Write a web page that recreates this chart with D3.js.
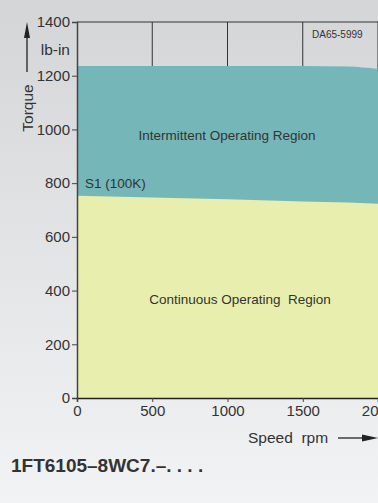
<!DOCTYPE html>
<html>
<head>
<meta charset="utf-8">
<script src="https://cdn.jsdelivr.net/npm/d3@7"></script>
<style>
  html, body { margin: 0; padding: 0; }
  body { width: 378px; height: 503px; overflow: hidden; }
  text { font-family: "Liberation Sans", Arial, sans-serif; fill: #333; }
</style>
</head>
<body>
<svg id="chart" width="378" height="503"></svg>
<script>
// data
const speed         = [0, 500, 1000, 1500, 1800, 2000];
const intermittent  = [1236, 1236, 1236, 1236, 1234, 1225];
const continuous    = [753, 747, 740, 732, 728, 723];
const xTicks        = [0, 500, 1000, 1500, 2000];
const yTicks        = [0, 200, 400, 600, 800, 1000, 1200, 1400];

const svg = d3.select('#chart');
const width = 378, height = 503;
const FONT = '"Liberation Sans", Arial, sans-serif';

const defs = svg.append('defs');
const grad = defs.append('linearGradient').attr('id', 'bg')
  .attr('x1', 0).attr('y1', 0).attr('x2', 0).attr('y2', 1);
grad.append('stop').attr('offset', '0%').attr('stop-color', '#d4d5d7');
grad.append('stop').attr('offset', '100%').attr('stop-color', '#f2f3f5');

svg.append('rect').attr('width', width).attr('height', height).attr('fill', 'url(#bg)');

const x = d3.scaleLinear().domain([0, 2000]).range([77, 378]);
const y = d3.scaleLinear().domain([0, 1400]).range([398, 22]);

const pts = (vals) => speed.map((s, i) => [s, vals[i]]);

// vertical grid lines
svg.append('g').selectAll('line').data(xTicks.slice(1)).enter().append('line')
  .attr('x1', d => x(d)).attr('x2', d => x(d))
  .attr('y1', y(1400)).attr('y2', y(0))
  .attr('stroke', '#333').attr('stroke-width', 1);

// top border
svg.append('line').attr('x1', x(0)).attr('x2', width)
  .attr('y1', y(1400)).attr('y2', y(1400))
  .attr('stroke', '#333').attr('stroke-width', 1);

const area = d3.area().x(d => x(d[0])).y0(y(0)).y1(d => y(d[1]));

svg.append('path').datum(pts(intermittent)).attr('d', area.curve(d3.curveMonotoneX))
  .attr('fill', '#75b7b8');
svg.append('path').datum(pts(continuous)).attr('d', area.curve(d3.curveLinear))
  .attr('fill', '#e8eeae');

// axes
const yAxis = d3.axisLeft(y).tickValues(yTicks).tickFormat(d3.format('d')).tickSize(5).tickPadding(2);
const gy = svg.append('g').attr('transform', `translate(${x(0)},0)`).call(yAxis);
gy.select('.domain').attr('stroke', '#444').attr('stroke-width', 1.5);
gy.selectAll('.tick line').attr('stroke', '#444');
gy.selectAll('.tick text').style('font-size', '15px')
  .style('font-family', FONT).attr('fill', '#333');

const xAxis = d3.axisBottom(x).tickValues(xTicks).tickFormat(d3.format('d')).tickSize(4).tickPadding(3);
const gx = svg.append('g').attr('transform', `translate(0,${y(0)})`).call(xAxis);
gx.select('.domain').attr('stroke', '#222').attr('stroke-width', 1.5);
gx.selectAll('.tick line').attr('stroke', '#444');
gx.selectAll('.tick text').style('font-size', '15px')
  .style('font-family', FONT).attr('fill', '#333');

// labels
svg.append('text').attr('x', 70).attr('y', 55).attr('text-anchor', 'end')
  .style('font-size', '15.5px').text('lb-in');

svg.append('text').attr('transform', 'translate(33,108) rotate(-90)')
  .attr('text-anchor', 'middle').style('font-size', '15.5px').text('Torque');

// torque arrow
svg.append('line').attr('x1', 27).attr('x2', 27).attr('y1', 72).attr('y2', 34)
  .attr('stroke', '#222').attr('stroke-width', 1.3);
svg.append('path').attr('d', 'M27,22 L24,38 L30,38 Z').attr('fill', '#222');

svg.append('text').attr('x', 248).attr('y', 443).style('font-size', '15.5px')
  .attr('xml:space', 'preserve').text('Speed  rpm');
svg.append('line').attr('x1', 338).attr('x2', 366).attr('y1', 438).attr('y2', 438)
  .attr('stroke', '#222').attr('stroke-width', 1.3);
svg.append('path').attr('d', 'M378,438 L362,434.5 L362,441.5 Z').attr('fill', '#222');

svg.append('text').attr('x', 312).attr('y', 38).style('font-size', '10px').text('DA65-5999');

svg.append('text').attr('x', 227).attr('y', 140).attr('text-anchor', 'middle')
  .style('font-size', '13.5px').text('Intermittent Operating Region');

svg.append('text').attr('x', 85).attr('y', 188).style('font-size', '13.5px').text('S1 (100K)');

svg.append('text').attr('x', 240).attr('y', 304).attr('text-anchor', 'middle')
  .style('font-size', '13.5px').attr('xml:space', 'preserve').text('Continuous Operating  Region');

svg.append('text').attr('x', 11).attr('y', 472).style('font-size', '19px')
  .style('font-weight', 'bold').attr('fill', '#111').attr('xml:space', 'preserve')
  .text('1FT6105–8WC7.–. . . .');
</script>
</body>
</html>
